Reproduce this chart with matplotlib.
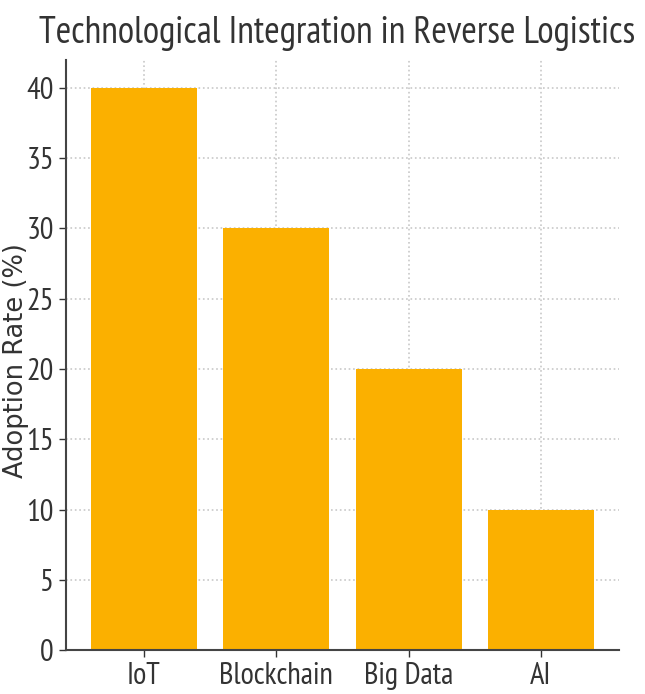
import matplotlib
matplotlib.use("Agg")
import matplotlib.pyplot as plt

technologies = ["IoT", "Blockchain", "Big Data", "AI"]
adoption_rate = [40, 30, 20, 10]

narrow = ["PT Sans Narrow", "DejaVu Sans"]

fig = plt.figure(figsize=(6.45, 6.94), dpi=100)
ax = fig.add_axes([0.102, 0.063, 0.858, 0.851])

ax.bar(technologies, adoption_rate, color="#FBB000", width=0.8, zorder=2)

ax.grid(True, linestyle=":", color="#c8c8c8", linewidth=1.2, zorder=0)
for side in ["top", "right"]:
    ax.spines[side].set_visible(False)
for side in ["left", "bottom"]:
    ax.spines[side].set_color("#444444")
    ax.spines[side].set_linewidth(1.5)

ax.tick_params(colors="#333333", labelsize=22, length=5, width=1)
for lab in ax.get_xticklabels() + ax.get_yticklabels():
    lab.set_fontfamily(narrow)

ax.set_ylabel("Adoption Rate (%)", fontsize=18.5, color="#333333", family="DejaVu Sans")
ax.yaxis.set_label_coords(-0.066, 0.49)
ax.set_title("Technological Integration in Reverse Logistics", fontsize=27,
             family=narrow, color="#333333", pad=12, x=0.49)

fig.savefig("out.png", dpi=100)
